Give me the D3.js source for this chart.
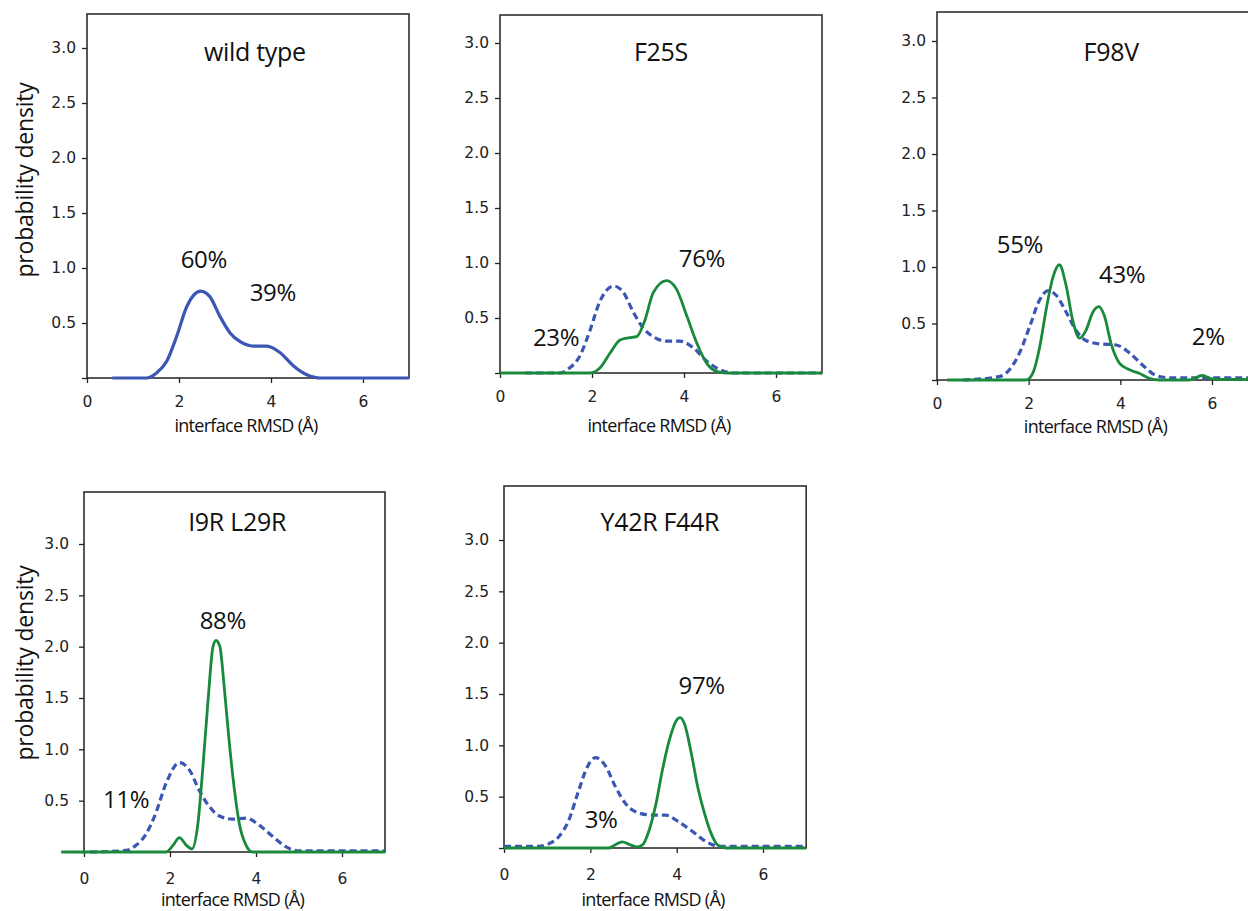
<!DOCTYPE html>
<html>
<head>
<meta charset="utf-8">
<script src="https://cdn.jsdelivr.net/npm/d3@7"></script>
<style>
  body { margin: 0; background: #fff; }
  svg { display: block; }
</style>
</head>
<body>
<svg id="chart" width="1248" height="911"></svg>
<script>
// ---- data (x = interface RMSD in Å, y = probability density) ----
const panelTitles = ["wild type", "F25S", "F98V", "I9R L29R", "Y42R F44R"];
const xTicks = [0, 2, 4, 6];
const yTicks = [0, 0.5, 1.0, 1.5, 2.0, 2.5, 3.0];

// wild type reference curve (solid in panel 1, dashed elsewhere)
const wtTop = [
  [0.55, 0], [1.3, 0], [1.51, 0.045], [1.73, 0.15], [1.95, 0.38], [2.17, 0.65],
  [2.47, 0.79], [2.67, 0.74], [2.89, 0.56], [3.11, 0.41], [3.33, 0.33], [3.62, 0.29],
  [3.91, 0.29], [4.2, 0.23], [4.49, 0.11], [4.78, 0.03], [5.07, 0], [7.0, 0]
];
const wtF98V = [
  [0.57, 0], [1.36, 0.03], [1.58, 0.09], [1.8, 0.24], [2.02, 0.47], [2.24, 0.71],
  [2.42, 0.79], [2.6, 0.75], [2.82, 0.6], [3.03, 0.44], [3.25, 0.35], [3.54, 0.32],
  [3.91, 0.31], [4.2, 0.24], [4.49, 0.13], [4.78, 0.04], [5.07, 0.02], [7.0, 0.02]
];
const wtBottom = [
  [0.14, 0], [0.98, 0.015], [1.21, 0.065], [1.45, 0.18], [1.68, 0.39], [1.91, 0.67],
  [2.22, 0.87], [2.45, 0.8], [2.68, 0.6], [2.92, 0.44], [3.15, 0.35], [3.46, 0.32],
  [3.77, 0.33], [4.08, 0.26], [4.39, 0.15], [4.7, 0.05], [5.0, 0.01], [7.0, 0.01]
];
const wtY42R = [
  [0.0, 0.015], [0.8, 0.015], [1.03, 0.04], [1.27, 0.11], [1.5, 0.27], [1.73, 0.56],
  [1.93, 0.79], [2.12, 0.88], [2.35, 0.8], [2.59, 0.59], [2.82, 0.43], [3.13, 0.34],
  [3.44, 0.32], [3.75, 0.32], [4.06, 0.25], [4.37, 0.16], [4.69, 0.06], [5.0, 0.015],
  [7.0, 0.015]
];

// mutant curves
const mutF25S = [
  [0, 0], [1.96, 0], [2.17, 0.045], [2.39, 0.18], [2.61, 0.3], [2.79, 0.32], [2.97, 0.33],
  [3.15, 0.48], [3.33, 0.73], [3.62, 0.84], [3.84, 0.76], [4.06, 0.52], [4.28, 0.27],
  [4.49, 0.09], [4.71, 0.015], [4.93, 0], [7.0, 0]
];
const mutF98V = [
  [0.22, 0], [1.95, 0], [2.09, 0.06], [2.24, 0.29], [2.38, 0.62], [2.53, 0.91], [2.67, 1.02],
  [2.82, 0.83], [2.96, 0.53], [3.11, 0.37], [3.25, 0.44], [3.4, 0.6], [3.53, 0.65],
  [3.65, 0.57], [3.8, 0.32], [3.98, 0.15], [4.2, 0.09], [4.41, 0.06], [4.63, 0.015],
  [4.85, 0], [5.5, 0], [5.79, 0.04], [6.0, 0.01], [6.23, 0.005], [7.0, 0.005]
];
const mutI9R = [
  [-0.53, 0], [1.91, 0], [2.07, 0.065], [2.22, 0.14], [2.38, 0.065], [2.51, 0.03],
  [2.65, 0.28], [2.76, 0.8], [2.88, 1.45], [3.0, 2.0], [3.07, 2.06], [3.16, 2.0],
  [3.26, 1.61], [3.38, 1.06], [3.5, 0.6], [3.61, 0.28], [3.77, 0.065], [3.92, 0], [7.0, 0]
];
const mutY42R = [
  [0, 0], [2.43, 0], [2.59, 0.035], [2.74, 0.06], [2.9, 0.035], [3.09, 0.01], [3.22, 0.035],
  [3.36, 0.17], [3.52, 0.43], [3.67, 0.76], [3.83, 1.05], [3.99, 1.24], [4.08, 1.27],
  [4.18, 1.21], [4.34, 0.92], [4.49, 0.59], [4.65, 0.33], [4.8, 0.14], [4.96, 0.025],
  [5.15, 0], [7.0, 0]
];

// percentage annotations: [text, x, y] in data units (baseline, centred)
const notesWT = [["60%", 2.54, 1.0], ["39%", 4.04, 0.7]];
const notesF25S = [["76%", 4.39, 0.96], ["23%", 1.22, 0.25]];
const notesF98V = [["55%", 1.81, 1.12], ["43%", 4.04, 0.86], ["2%", 5.92, 0.31]];
const notesI9R = [["88%", 3.23, 2.17], ["11%", 0.98, 0.43]];
const notesY42R = [["97%", 4.58, 1.5], ["3%", 2.25, 0.19]];
const titlePos = [[3.65, 2.88], [3.5, 2.84], [3.8, 2.82], [3.56, 3.13], [3.61, 3.09]];

// ---- layout (pixels): x0/x6 = px of 0 and 6 Å, y0/y3 = px of density 0 and 3 ----
const panels = [
  { x0: 87,  x6: 363,  y0: 378, y3: 48,  top: 14,  ref: wtTop,    mut: null,     notes: notesWT,   ylab: 180,  xPad: 13, yPad: 6,  xlabY: 432 },
  { x0: 500, x6: 776,  y0: 373, y3: 43,  top: 15,  ref: wtTop,    mut: mutF25S,  notes: notesF25S, ylab: null, xPad: 13, yPad: 6,  xlabY: 432 },
  { x0: 937, x6: 1212, y0: 380, y3: 41,  top: 12,  ref: wtF98V,   mut: mutF98V,  notes: notesF98V, ylab: null, xPad: 13, yPad: 6,  xlabY: 433 },
  { x0: 84,  x6: 342,  y0: 852, y3: 544, top: 492, ref: wtBottom, mut: mutI9R,   notes: notesI9R,  ylab: 663,  xPad: 16, yPad: 10, xlabY: 906 },
  { x0: 504, x6: 763,  y0: 848, y3: 540, top: 486, ref: wtY42R,   mut: mutY42R,  notes: notesY42R, ylab: null, xPad: 16, yPad: 10, xlabY: 906 }
];

const blue = "#3b56b3";
const green = "#198a3c";
const ink = "#222";
const labelFont = "'Open Sans', 'Noto Sans', sans-serif";
const tickFont = "'DejaVu Sans', sans-serif";

const svg = d3.select("#chart");

panels.forEach((p, i) => {
  const x = d3.scaleLinear().domain([0, 7]).range([p.x0, p.x0 + (p.x6 - p.x0) * 7 / 6]);
  const ymax = 3 * (p.y0 - p.top) / (p.y0 - p.y3);
  const y = d3.scaleLinear().domain([0, ymax]).range([p.y0, p.top]);

  const g = svg.append("g").attr("class", "panel");

  // frame
  g.append("rect")
    .attr("x", x(0)).attr("y", y(ymax))
    .attr("width", x(7) - x(0)).attr("height", y(0) - y(ymax))
    .attr("fill", "none").attr("stroke", ink).attr("stroke-width", 1.5);

  // axes
  const xAxis = d3.axisBottom(x).tickValues(xTicks).tickSize(5).tickPadding(p.xPad).tickFormat(d3.format("d"));
  const yAxis = d3.axisLeft(y).tickValues(yTicks).tickSize(5).tickPadding(p.yPad)
    .tickFormat(d => d === 0 ? "" : d3.format(".1f")(d));

  [g.append("g").attr("transform", `translate(0,${y(0)})`).call(xAxis),
   g.append("g").attr("transform", `translate(${x(0)},0)`).call(yAxis)].forEach(a => {
    a.select(".domain").remove();
    a.selectAll("line").attr("stroke", ink).attr("stroke-width", 1.3);
    a.selectAll("text").attr("fill", ink).style("font-family", tickFont).style("font-size", "15.5px");
  });

  const line = d3.line().x(d => x(d[0])).y(d => y(d[1])).curve(d3.curveMonotoneX);

  // reference (wild type) curve
  g.append("path")
    .datum(p.ref)
    .attr("d", line)
    .attr("fill", "none")
    .attr("stroke", blue)
    .attr("stroke-width", 3.2)
    .attr("stroke-linejoin", "round")
    .attr("stroke-dasharray", p.mut ? "7,4" : null);

  if (p.mut) {
    g.append("path")
      .datum(p.mut)
      .attr("d", line)
      .attr("fill", "none")
      .attr("stroke", green)
      .attr("stroke-width", 2.8)
      .attr("stroke-linejoin", "round");
  }

  // title
  g.append("text")
    .attr("x", x(titlePos[i][0])).attr("y", y(titlePos[i][1]))
    .attr("text-anchor", "middle")
    .style("font-family", labelFont).style("font-size", "25px")
    .style("letter-spacing", "-0.3px")
    .attr("fill", "#111")
    .text(panelTitles[i]);

  // percentages
  g.selectAll(".note")
    .data(p.notes)
    .join("text")
    .attr("class", "note")
    .attr("x", d => x(d[1])).attr("y", d => y(d[2]))
    .attr("text-anchor", "middle")
    .style("font-family", labelFont).style("font-size", "24px")
    .style("letter-spacing", "-0.3px")
    .attr("fill", "#111")
    .text(d => d[0]);

  // x label
  g.append("text")
    .attr("x", (x(0) + x(7)) / 2 - 2)
    .attr("y", p.xlabY)
    .attr("text-anchor", "middle")
    .style("font-family", labelFont).style("font-size", "18px")
    .style("letter-spacing", "-0.7px")
    .attr("fill", "#111")
    .text("interface RMSD (Å)");

  // y label
  if (p.ylab) {
    g.append("text")
      .attr("transform", `translate(33,${p.ylab}) rotate(-90)`)
      .attr("text-anchor", "middle")
      .style("font-family", labelFont).style("font-size", "23px")
      .style("letter-spacing", "-0.2px")
      .attr("fill", "#111")
      .text("probability density");
  }
});
</script>
</body>
</html>
